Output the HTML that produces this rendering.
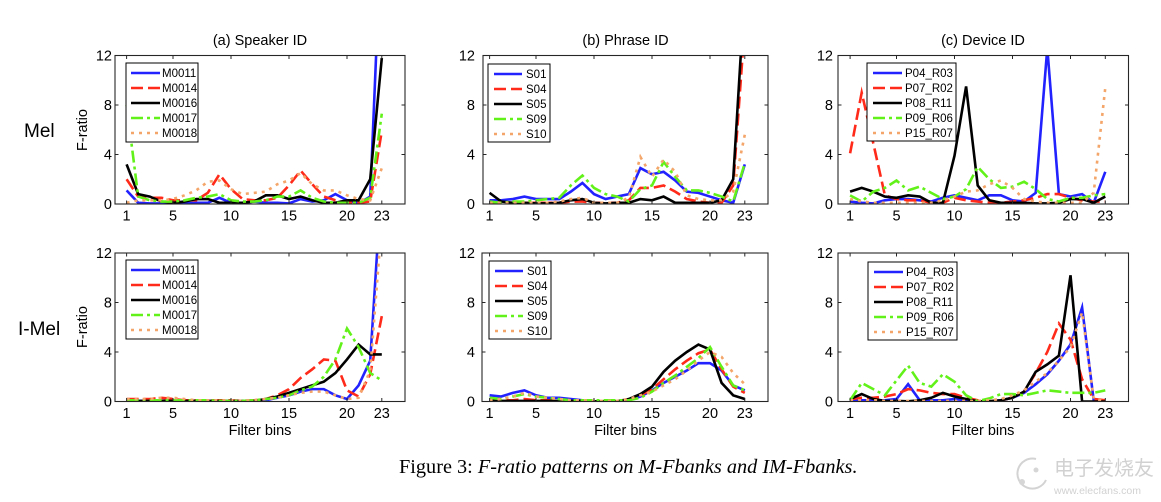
<!DOCTYPE html>
<html><head><meta charset="utf-8">
<style>
html,body{margin:0;padding:0;background:#fff;}
svg{display:block;}
text{font-family:"Liberation Sans",Arial,Helvetica,sans-serif;fill:#000;}
.tk{font-size:14.5px;}
.lg{font-size:11.5px;}
</style></head>
<body>
<svg id="fig" width="1161" height="502" viewBox="0 0 1161 502" xmlns="http://www.w3.org/2000/svg">
<rect x="0" y="0" width="1161" height="502" fill="#fff"/>
<defs>
<clipPath id="cpa"><rect x="115" y="55.5" width="290" height="148.5"/></clipPath>
<clipPath id="cpb"><rect x="483" y="55.5" width="285" height="148.5"/></clipPath>
<clipPath id="cpc"><rect x="838" y="55.5" width="290.5" height="148.5"/></clipPath>
<clipPath id="cpd"><rect x="115" y="253" width="290" height="148.5"/></clipPath>
<clipPath id="cpe"><rect x="482" y="253" width="286" height="148.5"/></clipPath>
<clipPath id="cpf"><rect x="838" y="253" width="290.5" height="148.5"/></clipPath>
</defs>

<g id="series"></g>

<!-- frames -->
<g fill="none" stroke="#262626" stroke-width="1.1">
<rect x="115" y="55.5" width="290" height="148.5"/>
<rect x="483" y="55.5" width="285" height="148.5"/>
<rect x="838" y="55.5" width="290.5" height="148.5"/>
<rect x="115" y="253" width="290" height="148.5"/>
<rect x="482" y="253" width="286" height="148.5"/>
<rect x="838" y="253" width="290.5" height="148.5"/>
</g>
<g id="ticks" stroke="#262626" stroke-width="1"></g>

<!-- titles -->
<text x="260" y="45" text-anchor="middle" class="tk">(a) Speaker ID</text>
<text x="625.5" y="45" text-anchor="middle" class="tk">(b) Phrase ID</text>
<text x="983" y="45" text-anchor="middle" class="tk">(c) Device ID</text>

<!-- row labels -->
<text x="24" y="137" style="font-size:19px">Mel</text>
<text x="18" y="335" style="font-size:19px">I-Mel</text>
<text transform="translate(87,130) rotate(-90)" text-anchor="middle" class="tk">F-ratio</text>
<text transform="translate(87,327) rotate(-90)" text-anchor="middle" class="tk">F-ratio</text>

<!-- y tick labels -->
<g class="tk" text-anchor="end">
<text x="112" y="60.7">12</text><text x="112" y="110.2">8</text><text x="112" y="159.7">4</text><text x="112" y="209.2">0</text>
<text x="475" y="60.7">12</text><text x="475" y="110.2">8</text><text x="475" y="159.7">4</text><text x="475" y="209.2">0</text>
<text x="833" y="60.7">12</text><text x="833" y="110.2">8</text><text x="833" y="159.7">4</text><text x="833" y="209.2">0</text>
<text x="112" y="258.2">12</text><text x="112" y="307.7">8</text><text x="112" y="357.2">4</text><text x="112" y="406.7">0</text>
<text x="475" y="258.2">12</text><text x="475" y="307.7">8</text><text x="475" y="357.2">4</text><text x="475" y="406.7">0</text>
<text x="833" y="258.2">12</text><text x="833" y="307.7">8</text><text x="833" y="357.2">4</text><text x="833" y="406.7">0</text>
</g>

<!-- x tick labels -->
<g class="tk" text-anchor="middle">
<text x="126.6" y="220.5">1</text><text x="173" y="220.5">5</text><text x="231" y="220.5">10</text><text x="289" y="220.5">15</text><text x="347" y="220.5">20</text><text x="381.8" y="220.5">23</text>
<text x="489.6" y="220.5">1</text><text x="536" y="220.5">5</text><text x="594" y="220.5">10</text><text x="652" y="220.5">15</text><text x="710" y="220.5">20</text><text x="744.8" y="220.5">23</text>
<text x="850.1" y="220.5">1</text><text x="896.5" y="220.5">5</text><text x="954.5" y="220.5">10</text><text x="1012.5" y="220.5">15</text><text x="1070.5" y="220.5">20</text><text x="1105.3" y="220.5">23</text>
<text x="126.6" y="418">1</text><text x="173" y="418">5</text><text x="231" y="418">10</text><text x="289" y="418">15</text><text x="347" y="418">20</text><text x="381.8" y="418">23</text>
<text x="489.6" y="418">1</text><text x="536" y="418">5</text><text x="594" y="418">10</text><text x="652" y="418">15</text><text x="710" y="418">20</text><text x="744.8" y="418">23</text>
<text x="850.1" y="418">1</text><text x="896.5" y="418">5</text><text x="954.5" y="418">10</text><text x="1012.5" y="418">15</text><text x="1070.5" y="418">20</text><text x="1105.3" y="418">23</text>
</g>

<!-- x axis labels -->
<text x="260" y="435" text-anchor="middle" class="tk">Filter bins</text>
<text x="625.5" y="435" text-anchor="middle" class="tk">Filter bins</text>
<text x="983" y="435" text-anchor="middle" class="tk">Filter bins</text>

<!-- legends -->
<g transform="translate(126,63)">
<rect x="0" y="0" width="72" height="79" fill="#fff" stroke="#000" stroke-width="1"/>
<g stroke-width="2.6" fill="none">
<line x1="5" y1="10" x2="34" y2="10" stroke="#2222ff"/>
<line x1="5" y1="25" x2="34" y2="25" stroke="#ff2a1a" stroke-dasharray="12 5"/>
<line x1="5" y1="40" x2="34" y2="40" stroke="#000"/>
<line x1="5" y1="55" x2="34" y2="55" stroke="#62f21a" stroke-dasharray="12 4 3 4"/>
<line x1="5" y1="70" x2="34" y2="70" stroke="#f4a66a" stroke-dasharray="3 5"/>
</g>
<g class="lg"><text x="36" y="14">M0011</text><text x="36" y="29">M0014</text><text x="36" y="44">M0016</text><text x="36" y="59">M0017</text><text x="36" y="74">M0018</text></g>
</g>
<g transform="translate(126,260)">
<rect x="0" y="0" width="72" height="79" fill="#fff" stroke="#000" stroke-width="1"/>
<g stroke-width="2.6" fill="none">
<line x1="5" y1="10" x2="34" y2="10" stroke="#2222ff"/>
<line x1="5" y1="25" x2="34" y2="25" stroke="#ff2a1a" stroke-dasharray="12 5"/>
<line x1="5" y1="40" x2="34" y2="40" stroke="#000"/>
<line x1="5" y1="55" x2="34" y2="55" stroke="#62f21a" stroke-dasharray="12 4 3 4"/>
<line x1="5" y1="70" x2="34" y2="70" stroke="#f4a66a" stroke-dasharray="3 5"/>
</g>
<g class="lg"><text x="36" y="14">M0011</text><text x="36" y="29">M0014</text><text x="36" y="44">M0016</text><text x="36" y="59">M0017</text><text x="36" y="74">M0018</text></g>
</g>
<g transform="translate(488,64)">
<rect x="0" y="0" width="62" height="78" fill="#fff" stroke="#000" stroke-width="1"/>
<g stroke-width="2.6" fill="none">
<line x1="6" y1="10" x2="34" y2="10" stroke="#2222ff"/>
<line x1="6" y1="25" x2="34" y2="25" stroke="#ff2a1a" stroke-dasharray="12 5"/>
<line x1="6" y1="40" x2="34" y2="40" stroke="#000"/>
<line x1="6" y1="55" x2="34" y2="55" stroke="#62f21a" stroke-dasharray="12 4 3 4"/>
<line x1="6" y1="70" x2="34" y2="70" stroke="#f4a66a" stroke-dasharray="3 5"/>
</g>
<g class="lg"><text x="38" y="14">S01</text><text x="38" y="29">S04</text><text x="38" y="44">S05</text><text x="38" y="59">S09</text><text x="38" y="74">S10</text></g>
</g>
<g transform="translate(489,261)">
<rect x="0" y="0" width="62" height="78" fill="#fff" stroke="#000" stroke-width="1"/>
<g stroke-width="2.6" fill="none">
<line x1="6" y1="10" x2="34" y2="10" stroke="#2222ff"/>
<line x1="6" y1="25" x2="34" y2="25" stroke="#ff2a1a" stroke-dasharray="12 5"/>
<line x1="6" y1="40" x2="34" y2="40" stroke="#000"/>
<line x1="6" y1="55" x2="34" y2="55" stroke="#62f21a" stroke-dasharray="12 4 3 4"/>
<line x1="6" y1="70" x2="34" y2="70" stroke="#f4a66a" stroke-dasharray="3 5"/>
</g>
<g class="lg"><text x="38" y="14">S01</text><text x="38" y="29">S04</text><text x="38" y="44">S05</text><text x="38" y="59">S09</text><text x="38" y="74">S10</text></g>
</g>
<g transform="translate(867,63)">
<rect x="0" y="0" width="89" height="78" fill="#fff" stroke="#000" stroke-width="1"/>
<g stroke-width="2.6" fill="none">
<line x1="6" y1="10" x2="35" y2="10" stroke="#2222ff"/>
<line x1="6" y1="25" x2="35" y2="25" stroke="#ff2a1a" stroke-dasharray="12 5"/>
<line x1="6" y1="40" x2="35" y2="40" stroke="#000"/>
<line x1="6" y1="55" x2="35" y2="55" stroke="#62f21a" stroke-dasharray="12 4 3 4"/>
<line x1="6" y1="70" x2="35" y2="70" stroke="#f4a66a" stroke-dasharray="3 5"/>
</g>
<g class="lg"><text x="38" y="14">P04_R03</text><text x="38" y="29">P07_R02</text><text x="38" y="44">P08_R11</text><text x="38" y="59">P09_R06</text><text x="38" y="74">P15_R07</text></g>
</g>
<g transform="translate(868,262)">
<rect x="0" y="0" width="89" height="78" fill="#fff" stroke="#000" stroke-width="1"/>
<g stroke-width="2.6" fill="none">
<line x1="6" y1="10" x2="35" y2="10" stroke="#2222ff"/>
<line x1="6" y1="25" x2="35" y2="25" stroke="#ff2a1a" stroke-dasharray="12 5"/>
<line x1="6" y1="40" x2="35" y2="40" stroke="#000"/>
<line x1="6" y1="55" x2="35" y2="55" stroke="#62f21a" stroke-dasharray="12 4 3 4"/>
<line x1="6" y1="70" x2="35" y2="70" stroke="#f4a66a" stroke-dasharray="3 5"/>
</g>
<g class="lg"><text x="38" y="14">P04_R03</text><text x="38" y="29">P07_R02</text><text x="38" y="44">P08_R11</text><text x="38" y="59">P09_R06</text><text x="38" y="74">P15_R07</text></g>
</g>

<!-- caption -->
<text x="399" y="473" style="font-family:'Liberation Serif','Times New Roman',serif;font-size:20.3px">Figure 3: <tspan font-style="italic">F-ratio patterns on M-Fbanks and IM-Fbanks.</tspan></text>

<!-- watermark -->
<g opacity="0.9">
<path d="M1036 459 A15 15 0 1 0 1046 480" fill="none" stroke="#cfcfcf" stroke-width="2"/>
<circle cx="1022" cy="482" r="3" fill="#d2d2d2"/>
<circle cx="1036" cy="470" r="2.5" fill="#d2d2d2"/>
<text x="1054" y="475" style="font-family:'Liberation Sans','Noto Sans CJK SC',sans-serif;font-size:20px;fill:#cdcdcd">电子发烧友</text>
<text x="1054" y="494" style="font-size:10.5px;fill:#cdcdcd">www.elecfans.com</text>
</g>
</svg>

<script>
(function(){
var NS="http://www.w3.org/2000/svg";
var svg=document.getElementById('fig');
var G=document.getElementById('series');
var TK=document.getElementById('ticks');
var P={
a:{L:115,R:405,T:55.5,B:204},
b:{L:483,R:768,T:55.5,B:204},
c:{L:838,R:1128.5,T:55.5,B:204},
d:{L:115,R:405,T:253,B:401.5},
e:{L:482,R:768,T:253,B:401.5},
f:{L:838,R:1128.5,T:253,B:401.5}
};
var ST=[
{c:"#2222ff",d:null},
{c:"#ff2a1a",d:"12 5"},
{c:"#000000",d:null},
{c:"#62f21a",d:"12 4 3 4"},
{c:"#f4a66a",d:"3 5"}
];
var D={
a:[
[1.1,0.1,0.05,0.05,0.05,0.05,0.1,0.1,0.5,0.1,0.1,0.2,0.1,0.1,0.05,0.4,0.2,0.3,0.8,0.3,0.05,0.6,23],
[2.0,0.6,0.5,0.5,0.3,0.3,0.3,0.9,2.4,1.2,0.4,0.3,0.3,0.5,1.5,2.7,1.6,0.6,0.3,0.1,0.1,0.2,5.9],
[3.2,0.8,0.6,0.2,0.1,0.2,0.4,0.4,0.1,0.1,0.1,0.2,0.7,0.7,0.4,0.6,0.3,0.1,0.1,0.3,0.3,2.0,11.8],
[8.0,0.6,0.3,0.2,0.2,0.3,0.5,0.6,0.8,0.3,0.2,0.2,0.3,0.6,0.6,1.1,0.5,0.2,0.1,0.1,0.1,0.5,7.3],
[0.1,0.3,0.3,0.3,0.4,0.7,1.1,1.8,1.9,1.2,0.8,0.9,1.0,1.6,1.9,2.5,1.6,1.1,1.1,0.7,0.4,0.3,2.9]
],
b:[
[0.3,0.3,0.4,0.6,0.4,0.4,0.4,1.0,1.7,0.8,0.4,0.6,0.8,2.9,2.4,2.6,1.9,1.0,0.9,0.6,0.3,0.1,3.2],
[0.1,0.1,0.1,0.1,0.1,0.1,0.1,0.2,0.2,0.1,0.1,0.1,0.3,1.3,1.3,1.5,1.0,0.4,0.2,0.1,0.1,1.5,14.5],
[0.9,0.2,0.1,0.1,0.05,0.05,0.1,0.3,0.4,0.1,0.05,0.1,0.1,0.4,0.3,0.6,0.1,0.1,0.1,0.1,0.3,2.0,17.4],
[0.2,0.1,0.2,0.2,0.3,0.4,0.5,1.5,2.3,1.3,0.8,0.6,0.2,1.2,1.5,3.4,2.2,1.1,1.1,0.9,0.6,0.2,3.3],
[0.1,0.1,0.1,0.1,0.1,0.1,0.2,0.4,0.5,0.1,0.1,0.1,0.5,3.8,2.2,3.6,2.6,0.7,0.4,0.3,0.3,1.0,5.6]
],
c:[
[0.2,0.1,0.05,0.3,0.4,0.4,0.3,0.2,0.5,0.7,0.5,0.3,0.7,0.7,0.3,0.2,0.9,12.6,0.8,0.6,0.8,0.1,2.6],
[4.1,9.0,4.9,0.7,0.4,0.3,0.3,0.1,0.1,0.5,0.3,0.2,0.1,0.1,0.2,0.3,0.5,0.8,0.8,0.5,0.3,0.2,0.2],
[1.0,1.3,1.0,0.6,0.5,0.7,0.6,0.1,0.1,3.9,9.5,1.5,0.3,0.1,0.1,0.1,0.05,0.05,0.1,0.4,0.4,0.1,0.6],
[0.7,0.2,1.0,1.3,1.9,1.1,1.4,0.9,0.4,0.6,1.2,3.0,2.0,1.3,1.4,1.8,1.2,0.4,0.2,0.5,0.5,0.7,0.8],
[0.4,0.2,0.1,0.1,0.1,0.1,0.1,0.1,0.3,0.6,1.0,1.1,1.6,1.9,1.3,0.4,0.2,0.1,0.1,0.1,0.1,0.9,9.4]
],
d:[
[0.05,0.05,0.05,0.05,0.05,0.05,0.05,0.05,0.05,0.05,0.05,0.05,0.1,0.3,0.5,0.8,1.0,1.0,0.5,0.2,1.3,3.3,18],
[0.2,0.2,0.2,0.3,0.2,0.1,0.1,0.1,0.1,0.1,0.05,0.1,0.2,0.5,1.0,1.9,2.6,3.4,3.3,0.9,0.4,2.2,6.9],
[0.05,0.05,0.05,0.05,0.05,0.05,0.05,0.05,0.05,0.05,0.05,0.05,0.2,0.4,0.7,1.0,1.3,1.6,2.3,3.4,4.6,3.8,3.8],
[0.1,0.1,0.1,0.1,0.1,0.1,0.1,0.1,0.05,0.05,0.05,0.1,0.2,0.3,0.5,0.9,1.2,2.0,3.4,5.9,4.4,2.3,1.7],
[0.2,0.2,0.2,0.3,0.3,0.2,0.1,0.1,0.1,0.1,0.05,0.1,0.2,0.3,0.5,0.7,0.8,0.8,0.5,0.2,0.3,2.5,14.5]
],
e:[
[0.5,0.4,0.7,0.9,0.5,0.3,0.3,0.2,0.1,0.02,0.02,0.02,0.1,0.4,0.9,1.5,2.0,2.5,3.1,3.1,2.5,1.3,0.9],
[0.1,0.1,0.1,0.2,0.1,0.1,0.1,0.05,0.05,0.02,0.02,0.02,0.1,0.5,1.0,1.8,2.6,3.3,3.9,4.2,2.6,1.2,0.7],
[0.1,0.05,0.05,0.05,0.05,0.05,0.05,0.05,0.05,0.02,0.02,0.02,0.2,0.6,1.2,2.4,3.3,4.0,4.6,4.2,1.5,0.5,0.2],
[0.3,0.2,0.4,0.6,0.4,0.3,0.2,0.1,0.1,0.1,0.1,0.1,0.1,0.3,0.8,1.5,2.1,2.8,3.5,4.4,2.8,1.3,0.9],
[0.1,0.2,0.4,0.7,0.4,0.3,0.2,0.1,0.1,0.05,0.05,0.05,0.2,0.5,0.8,1.3,1.8,2.5,3.3,4.0,3.6,2.3,1.4]
],
f:[
[0.1,0.1,0.1,0.1,0.2,1.4,0.1,0.1,0.1,0.2,0.1,0.02,0.02,0.1,0.3,0.7,1.4,2.2,3.3,4.6,7.6,0.1,0.02],
[0.2,0.3,0.3,0.4,0.6,1.0,0.9,0.7,0.6,0.6,0.3,0.1,0.02,0.1,0.3,0.8,2.3,4.0,6.3,5.0,1.8,0.2,0.1],
[0.2,0.6,0.2,0.05,0.05,0.02,0.1,0.3,0.7,0.4,0.2,0.02,0.02,0.1,0.3,0.8,2.4,3.0,3.7,10.2,0,0,0],
[0.1,1.5,1.0,0.5,1.7,2.9,1.5,1.2,2.2,1.6,0.5,0.02,0.25,0.6,0.6,0.5,0.7,0.9,0.8,0.7,0.7,0.7,0.9],
[0.1,0.1,0.1,0.05,0.05,0.05,0.05,0.05,0.05,0.05,0.05,0.05,0.1,0.2,0.5,0.9,1.6,2.3,3.3,4.4,7.2,0.2,0.02]
]
};
function el(n,a){var e=document.createElementNS(NS,n);for(var k in a)e.setAttribute(k,a[k]);return e;}
for(var key in P){
  var p=P[key];
  var g=el('g',{'clip-path':'url(#cp'+key+')'});
  G.appendChild(g);
  var sy=(p.B-p.T)/12;
  for(var s=0;s<5;s++){
    var arr=D[key][s],pts=[];
    for(var i=0;i<arr.length;i++){
      var x=p.R-(25-(i+1))*11.6, y=p.B-arr[i]*sy;
      pts.push(x.toFixed(2)+','+y.toFixed(2));
    }
    var at={points:pts.join(' '),fill:'none',stroke:ST[s].c,'stroke-width':'2.6','stroke-linejoin':'miter','stroke-miterlimit':'6'};
    if(ST[s].d)at['stroke-dasharray']=ST[s].d;
    g.appendChild(el('polyline',at));
  }
  var xs=[1,5,10,15,20,23];
  for(var j=0;j<xs.length;j++){
    var xx=p.R-(25-xs[j])*11.6;
    TK.appendChild(el('line',{x1:xx,y1:p.B,x2:xx,y2:p.B-3.5}));
    TK.appendChild(el('line',{x1:xx,y1:p.T,x2:xx,y2:p.T+3.5}));
  }
  var ys=[4,8];
  for(var m=0;m<ys.length;m++){
    var yy=p.B-ys[m]*sy;
    TK.appendChild(el('line',{x1:p.L,y1:yy,x2:p.L+3.5,y2:yy}));
    TK.appendChild(el('line',{x1:p.R,y1:yy,x2:p.R-3.5,y2:yy}));
  }
}
})();
</script>
</body></html>
